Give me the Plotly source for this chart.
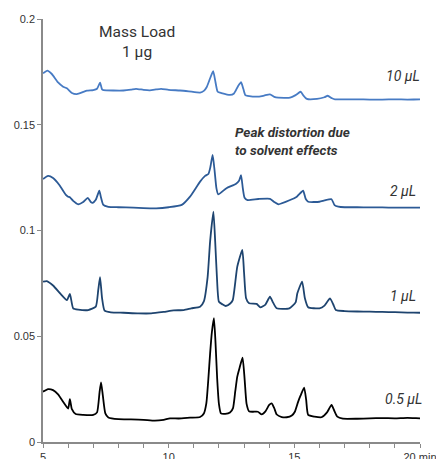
import plotly.graph_objects as go

# ---- data (time in min, absorbance) ----
x_05 = [5.0, 5.2, 5.4, 5.6, 5.8, 6.0, 6.07, 6.15, 6.3, 6.6, 7.0, 7.15, 7.25, 7.31, 7.38, 7.48, 7.6, 8.0, 8.5, 9.0, 9.45, 9.8, 10.05, 10.4, 10.85, 11.25, 11.4, 11.5, 11.58, 11.65, 11.72, 11.8, 11.86, 11.93, 12.0, 12.08, 12.25, 12.44, 12.56, 12.65, 12.73, 12.82, 12.94, 13.02, 13.1, 13.2, 13.35, 13.55, 13.7, 13.85, 14.0, 14.1, 14.2, 14.3, 14.5, 14.7, 14.9, 15.02, 15.15, 15.25, 15.39, 15.47, 15.55, 15.8, 16.08, 16.3, 16.48, 16.6, 16.71, 16.93, 17.5, 18.0, 18.5, 19.0, 19.5, 20.0, 20.1]
y_05 = [0.0238, 0.025, 0.0245, 0.0225, 0.019, 0.0158, 0.0203, 0.0155, 0.0132, 0.0128, 0.0128, 0.014, 0.0235, 0.0282, 0.022, 0.0135, 0.0116, 0.0108, 0.0107, 0.0105, 0.0101, 0.0105, 0.0112, 0.0111, 0.0115, 0.0118, 0.0135, 0.0184, 0.03, 0.042, 0.052, 0.0586, 0.048, 0.03, 0.018, 0.0135, 0.0133, 0.0139, 0.016, 0.024, 0.0309, 0.035, 0.0399, 0.03, 0.018, 0.0145, 0.0143, 0.0143, 0.0131, 0.0145, 0.0175, 0.0183, 0.016, 0.013, 0.0118, 0.0117, 0.0125, 0.0143, 0.019, 0.022, 0.0257, 0.02, 0.0128, 0.012, 0.0117, 0.014, 0.0175, 0.0145, 0.012, 0.011, 0.011, 0.0112, 0.0113, 0.0112, 0.0114, 0.0112, 0.0112]

x_1 = [5.0, 5.15, 5.4, 5.7, 5.95, 6.07, 6.2, 6.4, 6.8, 7.1, 7.2, 7.27, 7.35, 7.45, 7.7, 8.2, 8.8, 9.3, 9.8, 10.2, 10.6, 10.9, 11.25, 11.4, 11.55, 11.65, 11.78, 11.85, 11.92, 12.0, 12.15, 12.27, 12.45, 12.55, 12.65, 12.73, 12.93, 13.0, 13.08, 13.2, 13.5, 13.65, 13.85, 14.03, 14.15, 14.3, 14.8, 15.05, 15.12, 15.31, 15.42, 15.55, 16.0, 16.2, 16.42, 16.55, 16.65, 17.0, 17.5, 18.0, 18.5, 19.0, 19.5, 20.0, 20.1]
y_1 = [0.0758, 0.0761, 0.074, 0.07, 0.0671, 0.07, 0.0632, 0.0626, 0.0624, 0.064, 0.072, 0.0779, 0.068, 0.0621, 0.0613, 0.0611, 0.0608, 0.0608, 0.0615, 0.0622, 0.0624, 0.0632, 0.064, 0.0665, 0.078, 0.095, 0.1089, 0.095, 0.078, 0.0663, 0.065, 0.0643, 0.0655, 0.0671, 0.0755, 0.0829, 0.0908, 0.08, 0.068, 0.0656, 0.0653, 0.0637, 0.065, 0.0687, 0.066, 0.0632, 0.0632, 0.066, 0.0703, 0.0758, 0.068, 0.0637, 0.0632, 0.0645, 0.0679, 0.065, 0.0624, 0.0619, 0.0617, 0.0616, 0.0615, 0.0614, 0.0612, 0.0611, 0.0611]

x_2 = [5.0, 5.2, 5.4, 5.65, 5.9, 6.0, 6.07, 6.2, 6.4, 6.6, 6.78, 6.9, 6.98, 7.1, 7.24, 7.3, 7.4, 7.6, 8.0, 8.6, 9.0, 9.5, 10.0, 10.52, 10.85, 11.25, 11.45, 11.58, 11.66, 11.75, 11.83, 11.9, 11.97, 12.3, 12.67, 12.8, 12.88, 12.95, 13.02, 13.14, 13.57, 14.03, 14.2, 14.36, 14.83, 15.1, 15.35, 15.45, 15.55, 16.0, 16.2, 16.48, 16.6, 16.75, 17.0, 17.5, 18.0, 18.5, 19.0, 19.5, 20.0, 20.1]
y_2 = [0.1243, 0.1258, 0.1248, 0.1215, 0.117, 0.116, 0.1157, 0.114, 0.1124, 0.1135, 0.1154, 0.1135, 0.1131, 0.1145, 0.1188, 0.116, 0.1121, 0.1112, 0.111, 0.1108, 0.1106, 0.1105, 0.111, 0.1121, 0.116, 0.1231, 0.1258, 0.1267, 0.13, 0.1357, 0.128, 0.12, 0.1171, 0.12, 0.122, 0.1235, 0.1262, 0.12, 0.1155, 0.1144, 0.1149, 0.115, 0.1135, 0.1124, 0.1144, 0.116, 0.1188, 0.115, 0.1136, 0.1136, 0.1142, 0.1148, 0.112, 0.1113, 0.111, 0.111, 0.1109, 0.1109, 0.1108, 0.1108, 0.1108, 0.1108]

x_10 = [5.0, 5.17, 5.35, 5.6, 5.8, 5.95, 6.15, 6.35, 6.6, 6.75, 7.0, 7.15, 7.27, 7.35, 7.4, 7.8, 8.2, 8.5, 8.7, 9.0, 9.25, 9.5, 9.7, 10.0, 10.45, 10.8, 11.25, 11.4, 11.51, 11.65, 11.77, 11.85, 11.95, 12.1, 12.44, 12.6, 12.75, 12.88, 12.97, 13.05, 13.14, 13.6, 13.8, 14.03, 14.2, 14.36, 14.83, 15.05, 15.25, 15.35, 15.5, 15.9, 16.2, 16.33, 16.5, 16.62, 17.0, 17.5, 18.0, 18.5, 19.0, 19.5, 20.0, 20.1]
y_10 = [0.1743, 0.1756, 0.174, 0.17, 0.168, 0.1672, 0.165, 0.1645, 0.1655, 0.1661, 0.1664, 0.167, 0.1699, 0.1667, 0.1664, 0.1662, 0.1662, 0.1666, 0.167, 0.1665, 0.1663, 0.1667, 0.167, 0.1665, 0.1662, 0.1658, 0.1652, 0.166, 0.1677, 0.172, 0.1754, 0.171, 0.1656, 0.165, 0.1641, 0.1648, 0.168, 0.1701, 0.167, 0.164, 0.1637, 0.1633, 0.1638, 0.1644, 0.1632, 0.1628, 0.1628, 0.164, 0.1656, 0.164, 0.1622, 0.1622, 0.163, 0.1637, 0.1625, 0.162, 0.162, 0.162, 0.1619, 0.1619, 0.162, 0.1619, 0.162, 0.162]

series_names = ["10 µL", "2 µL", "1 µL", "0.5 µL"]
series_x = [x_10, x_2, x_1, x_05]
series_y = [y_10, y_2, y_1, y_05]
series_colors = ["#477bc4", "#2c5a96", "#1e446f", "#000000"]
label_y = [0.1730, 0.1187, 0.0690, 0.0203]

x_tickvals = list(range(5, 21))
x_ticktext = ["5", "", "", "", "", "10", "", "", "", "", "15", "", "", "", "", "20 min"]
y_tickvals = [0, 0.05, 0.1, 0.15, 0.2]
y_ticktext = ["0", "0.05", "0.1", "0.15", "0.2"]

title_text = "Mass Load<br>1 µg"
note_text = "Peak distortion due<br>to solvent effects"

label_font = "Roboto, sans-serif"

fig = go.Figure()
for name, xs, ys, c in zip(series_names, series_x, series_y, series_colors):
    fig.add_trace(go.Scatter(x=xs, y=ys, mode="lines", name=name,
                             line=dict(color=c, width=1.8, shape="spline", smoothing=0.5),
                             showlegend=False, hoverinfo="skip"))

for name, ly in zip(series_names, label_y):
    fig.add_annotation(x=19.33, y=ly, xref="x", yref="y", text=name, showarrow=False,
                       font=dict(family=label_font, size=14, color="#333333", style="italic"))

fig.add_annotation(x=8.74, y=0.1893, xref="x", yref="y", text=title_text, showarrow=False,
                   font=dict(family=label_font, size=15.5, color="#333333"), align="center")
fig.add_annotation(x=12.56, y=0.1423, xref="x", yref="y", text=note_text, showarrow=False,
                   xanchor="left", align="left",
                   font=dict(family=label_font, size=13.5, color="#333333", style="italic", weight="bold"))

axis_common = dict(showgrid=False, zeroline=False, showline=True, linecolor="#8a8a8a", linewidth=1.5,
                   ticks="outside", ticklen=4, tickwidth=1, tickcolor="#8a8a8a", automargin=False,
                   ticklabeloverflow="allow",
                   tickfont=dict(family="Liberation Sans, Arial, sans-serif", size=11, color="#333333"))
fig.update_xaxes(range=[5, 20], tickmode="array", tickvals=x_tickvals, ticktext=x_ticktext, **axis_common)
fig.update_yaxes(range=[0, 0.2], tickmode="array", tickvals=y_tickvals, ticktext=y_ticktext, **axis_common)

fig.update_layout(width=436, height=459, margin=dict(l=43, r=16, t=19, b=17),
                  paper_bgcolor="white", plot_bgcolor="white")

fig.write_html("out.html")
